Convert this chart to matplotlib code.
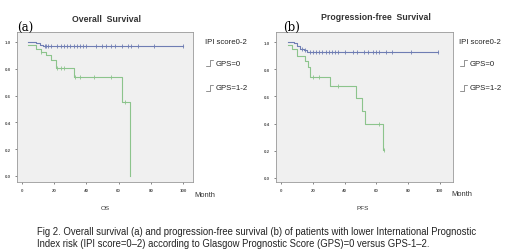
import numpy as np
import matplotlib.pyplot as plt

plt.rcParams['font.family'] = ['Liberation Sans', 'DejaVu Sans']

# Overall survival (a)
os_gps0_t = [4, 9, 11, 13, 100]
os_gps0_s = [1.0, 0.99, 0.98, 0.97, 0.97]
os_gps0_cens = [14, 15, 16, 18, 22, 24, 26, 28, 30, 32, 34, 36, 38, 40, 46, 50, 52, 55, 58, 62, 66, 68, 72, 82, 100]

os_gps12_t = [4, 9, 12, 15, 18, 21, 32, 62, 67, 67]
os_gps12_s = [0.977, 0.95, 0.925, 0.90, 0.866, 0.806, 0.737, 0.554, 0.0, 0.0]
os_gps12_cens = [12, 22, 24, 26, 33, 36, 45, 55, 64]

# Progression-free survival (b)
pfs_gps0_t = [4, 8, 10, 12, 14, 16, 99]
pfs_gps0_s = [1.0, 0.99, 0.97, 0.95, 0.94, 0.93, 0.93]
pfs_gps0_cens = [13, 15, 18, 20, 22, 24, 26, 28, 30, 32, 34, 36, 40, 45, 48, 52, 55, 58, 60, 62, 66, 70, 82, 99]

pfs_gps12_t = [4, 7, 10, 15, 17, 18, 31, 47, 51, 53, 64, 65]
pfs_gps12_s = [0.977, 0.95, 0.90, 0.86, 0.82, 0.742, 0.68, 0.585, 0.49, 0.395, 0.205, 0.205]
pfs_gps12_cens = [20, 24, 36, 62, 65]

x_ticks = [0, 20, 40, 60, 80, 100]
y_ticks = [0.0, 0.2, 0.4, 0.6, 0.8, 1.0]

blue = '#6f7db3'
green = '#8cc48c'


def step_value(t, s, x):
    idx = np.searchsorted(t, x, side='right') - 1
    return s[max(idx, 0)]


def km_panel(ax, t0, s0, c0, t1, s1, c1, xlim, ylim):
    ax.set_facecolor('#f0f0f0')
    ax.step(t0, s0, where='post', color=blue, lw=0.8)
    ax.step(t1, s1, where='post', color=green, lw=0.8)
    ax.plot(c0, [step_value(t0, s0, x) for x in c0], ls='none', marker='|', ms=2.5, mew=0.6, color=blue)
    ax.plot(c1, [step_value(t1, s1, x) for x in c1], ls='none', marker='|', ms=2.5, mew=0.6, color=green)
    ax.set_xlim(*xlim)
    ax.set_ylim(*ylim)
    ax.set_xticks(x_ticks)
    ax.set_yticks(y_ticks)
    ax.set_xticklabels([str(v) for v in x_ticks], fontsize=3.2, fontweight='bold', color='#333333')
    ax.set_yticklabels(['%.1f' % v for v in y_ticks], fontsize=3.2, fontweight='bold', color='#333333')
    ax.tick_params(length=1.5, width=0.5, pad=3, colors='#555555')
    for sp in ax.spines.values():
        sp.set_color('#999999')
        sp.set_linewidth(0.6)


fig = plt.figure(figsize=(5.2, 2.51), dpi=100)

ax1 = fig.add_axes([0.0327, 0.271, 0.339, 0.598])
km_panel(ax1, os_gps0_t, os_gps0_s, os_gps0_cens, os_gps12_t, os_gps12_s, os_gps12_cens,
         (-3.1, 106.4), (-0.045, 1.075))
ax2 = fig.add_axes([0.531, 0.271, 0.340, 0.598])
km_panel(ax2, pfs_gps0_t, pfs_gps0_s, pfs_gps0_cens, pfs_gps12_t, pfs_gps12_s, pfs_gps12_cens,
         (-3.3, 108.4), (-0.03, 1.075))

# titles and panel letters
fig.text(107 / 520, 1 - 19 / 251, 'Overall  Survival', fontsize=6.3, fontweight='bold',
         color='#333333', ha='center', va='center')
fig.text(376 / 520, 1 - 18 / 251, 'Progression-free  Survival', fontsize=6.3, fontweight='bold',
         color='#333333', ha='center', va='center')
fig.text(17 / 520, 1 - 28 / 251, '(a)', fontsize=8.5, family='DejaVu Serif', ha='left', va='center')
fig.text(283 / 520, 1 - 27 / 251, '(b)', fontsize=8.5, family='DejaVu Serif', ha='left', va='center')

# legends
for x0 in (205, 459):
    fig.text(x0 / 520, 1 - 43 / 251, 'IPI score0-2', fontsize=5.6, color='#222222', va='center')
    for y0, lab in ((64, 'GPS=0'), (89, 'GPS=1-2')):
        fig.text((x0 + 11) / 520, 1 - y0 / 251, lab, fontsize=5.6, color='#222222', va='center')
        fig.lines.append(plt.Line2D([(x0 + 1) / 520, (x0 + 5) / 520, (x0 + 5) / 520, (x0 + 8) / 520],
                                    [1 - (y0 + 3) / 251, 1 - (y0 + 3) / 251, 1 - (y0 - 3) / 251, 1 - (y0 - 3) / 251],
                                    transform=fig.transFigure, color='#666666', lw=0.5))

# axis labels
fig.text(194 / 520, 1 - 196 / 251, 'Month', fontsize=5.4, color='#333333', va='center')
fig.text(451 / 520, 1 - 195 / 251, 'Month', fontsize=5.4, color='#333333', va='center')
fig.text(105 / 520, 1 - 209 / 251, 'OS', fontsize=4.6, color='#333333', ha='center', va='center')
fig.text(363 / 520, 1 - 209 / 251, 'PFS', fontsize=4.6, color='#333333', ha='center', va='center')

# caption
fig.text(37 / 520, 1 - 232.5 / 251,
         'Fig 2. Overall survival (a) and progression-free survival (b) of patients with lower International Prognostic',
         fontsize=6.85, color='#222222', va='center')
fig.text(37 / 520, 1 - 244 / 251,
         'Index risk (IPI score=0\u20132) according to Glasgow Prognostic Score (GPS)=0 versus GPS-1\u20132.',
         fontsize=6.85, color='#222222', va='center')

fig.savefig('out.png', dpi=100)
